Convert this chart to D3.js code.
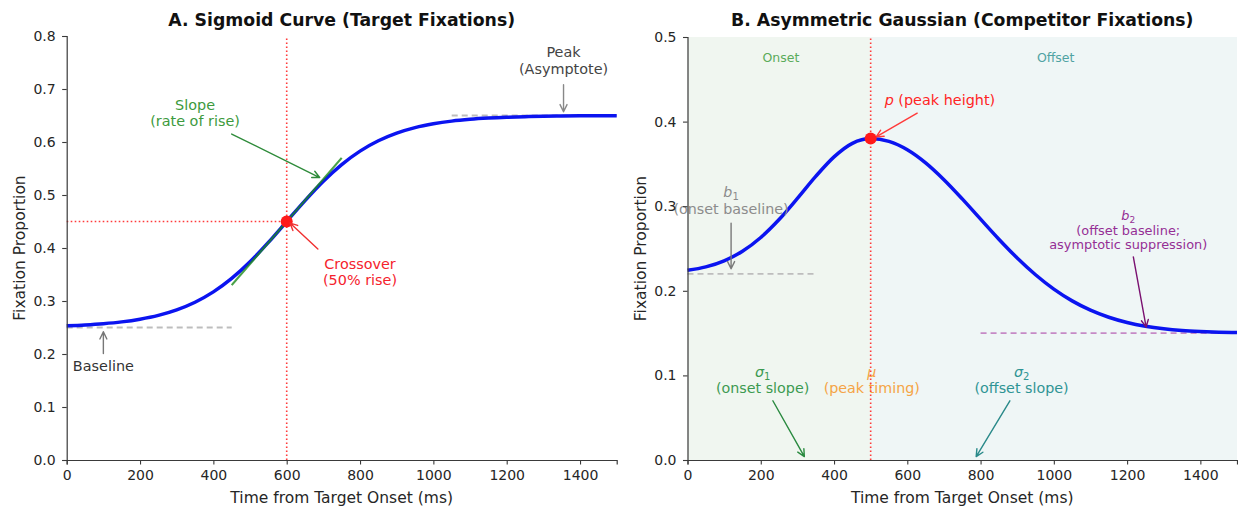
<!DOCTYPE html>
<html>
<head>
<meta charset="utf-8">
<script src="https://cdn.jsdelivr.net/npm/d3@7"></script>
<style>
  body { margin: 0; background: #fff; }
  svg { display: block; }
  text { font-family: "DejaVu Sans", sans-serif; }
</style>
</head>
<body>
<svg id="chart" width="1238" height="508"></svg>
<script>
// ---- data -------------------------------------------------------------
const timeGrid = [0, 50, 100, 150, 200, 250, 300, 350, 400, 450, 500, 550, 600, 650, 700, 750,
                  800, 850, 900, 950, 1000, 1050, 1100, 1150, 1200, 1250, 1300, 1350, 1400, 1450, 1500];

// target fixation proportion (sigmoid)
const targetFix = [0.2533, 0.2549, 0.2572, 0.2606, 0.2657, 0.2729, 0.2833, 0.2977, 0.3172, 0.3426,
                   0.3740, 0.4105, 0.4500, 0.4895, 0.5260, 0.5574, 0.5828, 0.6023, 0.6167, 0.6271,
                   0.6343, 0.6394, 0.6428, 0.6451, 0.6467, 0.6478, 0.6486, 0.6490, 0.6493, 0.6495, 0.6497];

// competitor fixation proportion (asymmetric gaussian)
const competitorFix = [0.2242, 0.2283, 0.2355, 0.2467, 0.2630, 0.2842, 0.3092, 0.3352, 0.3583, 0.3743,
                       0.3800, 0.3766, 0.3667, 0.3512, 0.3313, 0.3086, 0.2847, 0.2610, 0.2388, 0.2190,
                       0.2020, 0.1881, 0.1771, 0.1687, 0.1625, 0.1581, 0.1551, 0.1531, 0.1519, 0.1511, 0.1506];

const xTicks = [0, 200, 400, 600, 800, 1000, 1200, 1400];
const yTicksA = [0, 0.1, 0.2, 0.3, 0.4, 0.5, 0.6, 0.7, 0.8];
const yTicksB = [0, 0.1, 0.2, 0.3, 0.4, 0.5];

const titles = ["A. Sigmoid Curve (Target Fixations)", "B. Asymmetric Gaussian (Competitor Fixations)"];
const xLabel = "Time from Target Onset (ms)";
const yLabel = "Fixation Proportion";

// sigmoid parameters
const sigBaseline = 0.25, sigPeak = 0.65, sigCross = [600, 0.45];
const slopeSegment = [[450, 0.33], [750, 0.57]];
const baselineSpan = [0, 450], peakSpan = [1050, 1500];

// asymmetric gaussian parameters
const gMu = 500, gPeak = 0.38, gB1 = 0.22, gB2 = 0.15;
const b1Span = [0, 350], b2Span = [800, 1500];

// annotations: text block centre and optional arrow (tail -> head), all in data units
const notesA = [
  { lines: ["Slope", "(rate of rise)"], at: [350, 0.655], color: "#3d9a3d", fs: 14.4, lh: 16.7,
    arrow: { from: [450, 0.615], to: [690, 0.533], color: "#2e8b3a" } },
  { lines: ["Crossover", "(50% rise)"], at: [800, 0.355], color: "#f5222d", fs: 14.4, lh: 16.7,
    arrow: { from: [685, 0.398], to: [609, 0.447], color: "#f03030" } },
  { lines: ["Peak", "(Asymptote)"], at: [1355, 0.754], color: "#444444", fs: 14.4, lh: 17,
    arrow: { from: [1355, 0.708], to: [1355, 0.657], color: "#888888" } },
  { lines: ["Baseline"], at: [100, 0.178], color: "#333333", fs: 14.4, lh: 16.7,
    arrow: { from: [100, 0.201], to: [100, 0.242], color: "#777777" } }
];

const notesB = [
  { lines: ["Onset"], at: [255, 0.476], color: "#5aab5a", fs: 12.5, lh: 15 },
  { lines: ["Offset"], at: [1005, 0.476], color: "#4fa3a3", fs: 12.5, lh: 15 },
  { lines: [[{ t: "p", i: true }, { t: " (peak height)" }]], at: [689, 0.4255], color: "#ff2424", fs: 14.4, lh: 16,
    arrow: { from: [627, 0.410], to: [515, 0.382], color: "#ff3a3a" } },
  { lines: [[{ t: "b", i: true }, { t: "1", sub: true }], "(onset baseline)"], at: [119, 0.307], color: "#8c8c8c", fs: 14.3, lh: 17.6,
    arrow: { from: [119, 0.280], to: [119, 0.226], color: "#7a7a7a" } },
  { lines: [[{ t: "b", i: true }, { t: "2", sub: true }], "(offset baseline;", "asymptotic suppression)"], at: [1203, 0.272],
    color: "#952f95", fs: 12.9, lh: 14.6,
    arrow: { from: [1217, 0.240], to: [1252, 0.157], color: "#7a1070" } },
  { lines: [[{ t: "σ", i: true }, { t: "1", sub: true }], "(onset slope)"], at: [205, 0.095], color: "#3c9a50", fs: 14.3, lh: 15.6,
    arrow: { from: [233, 0.070], to: [319, 0.004], color: "#2a8a40" } },
  { lines: [[{ t: "μ", i: true }], "(peak timing)"], at: [503, 0.095], color: "#f5a445", fs: 14.3, lh: 15.6 },
  { lines: [[{ t: "σ", i: true }, { t: "2", sub: true }], "(offset slope)"], at: [912, 0.095], color: "#2e9494", fs: 14.3, lh: 15.6,
    arrow: { from: [880, 0.070], to: [788, 0.004], color: "#2a8a8a" } }
];

// ---- drawing helpers ---------------------------------------------------
const svg = d3.select("#chart");
const INK = "#262626";

function drawArrow(g, x1, y1, x2, y2, color) {
  const ang = Math.atan2(y2 - y1, x2 - x1), L = 8, w = 0.45;
  const p1 = [x2 - L * Math.cos(ang - w), y2 - L * Math.sin(ang - w)];
  const p2 = [x2 - L * Math.cos(ang + w), y2 - L * Math.sin(ang + w)];
  g.append("path")
    .attr("d", `M${x1},${y1}L${x2},${y2}M${p1[0]},${p1[1]}L${x2},${y2}L${p2[0]},${p2[1]}`)
    .attr("fill", "none").attr("stroke", color).attr("stroke-width", 1.4)
    .attr("stroke-linecap", "round").attr("stroke-linejoin", "round");
}

function drawNote(g, x, y, n) {
  const cx = x(n.at[0]), cy = y(n.at[1]);
  const k = n.lines.length;
  n.lines.forEach((ln, i) => {
    const by = cy + (i - (k - 1) / 2) * n.lh + 0.36 * n.fs;
    const t = g.append("text").attr("x", cx).attr("y", by).attr("text-anchor", "middle")
      .attr("font-size", n.fs).attr("fill", n.color);
    if (typeof ln === "string") { t.text(ln); return; }
    ln.forEach(seg => {
      const s = t.append("tspan").text(seg.t);
      if (seg.i) s.attr("font-style", "italic");
      if (seg.sub) s.attr("font-size", n.fs * 0.7).attr("dy", n.fs * 0.22);
    });
  });
  if (n.arrow) drawArrow(g, x(n.arrow.from[0]), y(n.arrow.from[1]), x(n.arrow.to[0]), y(n.arrow.to[1]), n.arrow.color);
}

function drawAxes(g, x, y, yTicks, cx, yLabX, title) {
  const xa = g.append("g").attr("transform", `translate(0,${y.range()[0]})`)
    .call(d3.axisBottom(x).tickValues(xTicks).tickFormat(d3.format("d")).tickSizeOuter(0).tickSize(4.5).tickPadding(6));
  const ya = g.append("g").attr("transform", `translate(${x.range()[0]},0)`)
    .call(d3.axisLeft(y).tickValues(yTicks).tickFormat(d3.format(".1f")).tickSizeOuter(0).tickSize(4.5).tickPadding(6.5));
  [xa, ya].forEach(a => {
    a.select(".domain").attr("stroke", "#3a3a3a").attr("stroke-width", 1.2);
    a.selectAll(".tick line").attr("stroke", "#3a3a3a").attr("stroke-width", 1.1);
    a.selectAll(".tick text").attr("font-size", 14).attr("fill", INK).attr("font-family", "DejaVu Sans");
  });
  g.append("text").attr("x", cx).attr("y", 503).attr("text-anchor", "middle")
    .attr("font-size", 15.5).attr("fill", INK).text(xLabel);
  const my = (y.range()[0] + y.range()[1]) / 2;
  g.append("text").attr("transform", `translate(${yLabX},${my}) rotate(-90)`).attr("text-anchor", "middle")
    .attr("font-size", 15.5).attr("fill", INK).text(yLabel);
  g.append("text").attr("x", cx).attr("y", 26).attr("text-anchor", "middle")
    .attr("font-size", 17.3).attr("font-weight", "bold").attr("fill", "#111").text(title);
}

// ---- panel A: sigmoid ----------------------------------------------------
{
  const g = svg.append("g");
  const x = d3.scaleLinear().domain([0, 1500]).range([66.7, 616.7]);
  const y = d3.scaleLinear().domain([0, 0.8]).range([460, 36]);

  // crossover guides
  g.append("line").attr("x1", x(sigCross[0])).attr("x2", x(sigCross[0])).attr("y1", y(0)).attr("y2", y(0.8))
    .attr("stroke", "#ff3b3b").attr("stroke-width", 1.6).attr("stroke-dasharray", "1.6,2.4");
  g.append("line").attr("x1", x(0)).attr("x2", x(sigCross[0])).attr("y1", y(sigCross[1])).attr("y2", y(sigCross[1]))
    .attr("stroke", "#ff3b3b").attr("stroke-width", 1.6).attr("stroke-dasharray", "1.6,2.4");

  // baseline / asymptote reference lines
  [[baselineSpan, sigBaseline], [peakSpan, sigPeak]].forEach(([span, v]) => {
    g.append("line").attr("x1", x(span[0])).attr("x2", x(span[1])).attr("y1", y(v)).attr("y2", y(v))
      .attr("stroke", "#bdbdbd").attr("stroke-width", 1.8).attr("stroke-dasharray", "6,4");
  });

  const line = d3.line().x((d, i) => x(timeGrid[i])).y(d => y(d)).curve(d3.curveMonotoneX);
  g.append("path").attr("d", line(targetFix)).attr("fill", "none").attr("stroke", "#0b14f0").attr("stroke-width", 3.5);

  // tangent at the crossover
  g.append("line").attr("x1", x(slopeSegment[0][0])).attr("y1", y(slopeSegment[0][1]))
    .attr("x2", x(slopeSegment[1][0])).attr("y2", y(slopeSegment[1][1]))
    .attr("stroke", "#1d8a1d").attr("stroke-opacity", 0.8).attr("stroke-width", 2.2);

  g.append("circle").attr("cx", x(sigCross[0])).attr("cy", y(sigCross[1])).attr("r", 6).attr("fill", "#ff1a1a");

  notesA.forEach(n => drawNote(g, x, y, n));
  drawAxes(g, x, y, yTicksA, (66.7 + 616.7) / 2, 25, titles[0]);
}

// ---- panel B: asymmetric gaussian ---------------------------------------
{
  const g = svg.append("g");
  const x = d3.scaleLinear().domain([0, 1500]).range([687.5, 1237]);
  const y = d3.scaleLinear().domain([0, 0.5]).range([460, 37]);

  // onset / offset phases
  g.append("rect").attr("x", x(0)).attr("y", y(0.5)).attr("width", x(gMu) - x(0)).attr("height", y(0) - y(0.5))
    .attr("fill", "#f0f6f0");
  g.append("rect").attr("x", x(gMu)).attr("y", y(0.5)).attr("width", x(1500) - x(gMu)).attr("height", y(0) - y(0.5))
    .attr("fill", "#eff6f6");

  g.append("line").attr("x1", x(b1Span[0])).attr("x2", x(b1Span[1])).attr("y1", y(gB1)).attr("y2", y(gB1))
    .attr("stroke", "#bdbdbd").attr("stroke-width", 1.8).attr("stroke-dasharray", "6,4");
  g.append("line").attr("x1", x(b2Span[0])).attr("x2", x(b2Span[1])).attr("y1", y(gB2)).attr("y2", y(gB2))
    .attr("stroke", "#c68ac6").attr("stroke-width", 1.8).attr("stroke-dasharray", "6,4");

  const line = d3.line().x((d, i) => x(timeGrid[i])).y(d => y(d)).curve(d3.curveMonotoneX);
  g.append("path").attr("d", line(competitorFix)).attr("fill", "none").attr("stroke", "#0b14f0").attr("stroke-width", 3.5);

  notesB.forEach(n => drawNote(g, x, y, n));

  g.append("line").attr("x1", x(gMu)).attr("x2", x(gMu)).attr("y1", y(0)).attr("y2", y(0.5))
    .attr("stroke", "#ff3b3b").attr("stroke-width", 1.6).attr("stroke-dasharray", "1.6,2.4");
  g.append("circle").attr("cx", x(gMu)).attr("cy", y(gPeak)).attr("r", 6).attr("fill", "#ff1a1a");

  drawAxes(g, x, y, yTicksB, (687.5 + 1237) / 2, 646, titles[1]);
}
</script>
</body>
</html>
